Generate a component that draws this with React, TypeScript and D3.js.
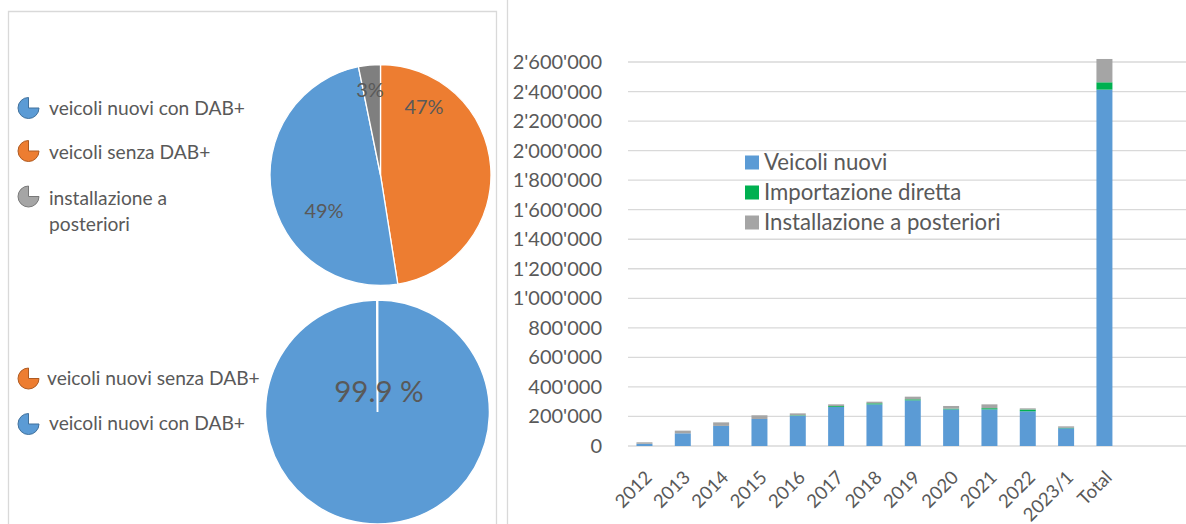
import React from "react";
import * as d3 from "d3";

const pie1Labels = ["veicoli senza DAB+", "veicoli nuovi con DAB+", "installazione a posteriori"];
const pie1Values = [47.5, 49.3, 3.2];
const pie1Colors = ["#ed7d31", "#5b9bd5", "#7f7f7f"];
const pie1Text = ["47%", "49%", "3%"];

const pie2Labels = ["veicoli nuovi con DAB+", "veicoli nuovi senza DAB+"];
const pie2Values = [99.9, 0.1];
const pie2Colors = ["#5b9bd5", "#ed7d31"];

const categories = ["2012", "2013", "2014", "2015", "2016", "2017", "2018", "2019", "2020", "2021", "2022", "2023/1", "Total"];
const veicoliNuovi = [15000, 86000, 136000, 183000, 205000, 264000, 282000, 309000, 248000, 248000, 235000, 120000, 2413000];
const importazione = [0, 0, 0, 0, 3000, 6000, 7000, 7000, 5000, 8000, 12000, 3000, 49500];
const installazione = [10000, 18000, 24000, 25000, 13000, 12000, 11000, 18000, 18000, 26000, 8000, 10000, 158000];
const seriesNames = ["Veicoli nuovi", "Importazione diretta", "Installazione a posteriori"];
const seriesColors = ["#5b9bd5", "#00b050", "#a5a5a5"];
const yTicks = [0, 200000, 400000, 600000, 800000, 1000000, 1200000, 1400000, 1600000, 1800000, 2000000, 2200000, 2400000, 2600000];

const FONT = "Lato, 'Open Sans', sans-serif";
const TXT = "#595959";

function LegendIcon({ x, y, fill, stroke }: { x: number; y: number; fill: string; stroke: string }) {
  const arc = d3.arc<any>().innerRadius(0).outerRadius(10.5).startAngle(Math.PI / 2).endAngle(2 * Math.PI);
  return <path d={arc({}) as string} transform={`translate(${x},${y})`} fill={fill} stroke={stroke} strokeWidth={1} />;
}

export default function App() {
  const pieGen = d3.pie<number>().sort(null).value((d) => d);
  const arcs1 = pieGen(pie1Values);
  const arc1 = d3.arc<any>().innerRadius(0).outerRadius(110.5);
  const c1 = { x: 380.5, y: 175 };
  const labelPos1 = [
    { x: 424, y: 107 },
    { x: 324, y: 211 },
    { x: 370, y: 90 },
  ];

  const arcs2 = pieGen(pie2Values);
  const arc2 = d3.arc<any>().innerRadius(0).outerRadius(112);
  const c2 = { x: 377.5, y: 412 };

  const x = d3.scaleBand<string>().domain(categories).range([625.3, 1123.6]).paddingInner(0.583).paddingOuter(0.2915);
  const y = d3.scaleLinear().domain([0, 2600000]).range([446, 62]);
  const table = categories.map((c, i) => ({ cat: c, a: veicoliNuovi[i], b: importazione[i], c: installazione[i] }));
  const stack = d3.stack<any>().keys(["a", "b", "c"])(table);
  const fmt = (v: number) => d3.format(",")(v).replace(/,/g, "'");

  return (
    <svg width={1186} height={524} style={{ position: "absolute", left: 0, top: 0, background: "#fff" }} fontFamily={FONT}>
      <rect x={0} y={0} width={1186} height={524} fill="#fff" />
      {/* left panel border */}
      <path d="M8.5,530 V11.5 H496.5 V530" fill="none" stroke="#d9d9d9" strokeWidth={1.3} />
      {/* right panel border */}
      <line x1={507.5} y1={0} x2={507.5} y2={524} stroke="#d9d9d9" strokeWidth={1.3} />

      {/* top pie */}
      <g transform={`translate(${c1.x},${c1.y})`}>
        {arcs1.map((a, i) => (
          <path key={i} d={arc1(a) as string} fill={pie1Colors[i]} stroke="#fff" strokeWidth={1.3} />
        ))}
      </g>
      {pie1Text.map((t, i) => (
        <text key={t} x={labelPos1[i].x} y={labelPos1[i].y} textAnchor="middle" dy="0.35em" fontSize={20} fill={TXT}>
          {t}
        </text>
      ))}
      {/* top legend */}
      <LegendIcon x={28.5} y={108} fill="#5b9bd5" stroke="#41719c" />
      <text x={49} y={108} dy="0.35em" fontSize={19.2} fill={TXT}>{pie1Labels[1]}</text>
      <LegendIcon x={28.5} y={151} fill="#ed7d31" stroke="#ae5a21" />
      <text x={49} y={152} dy="0.35em" fontSize={19.2} fill={TXT}>{pie1Labels[0]}</text>
      <LegendIcon x={28.5} y={196.5} fill="#a5a5a5" stroke="#787878" />
      <text x={49} y={198} dy="0.35em" fontSize={19.2} fill={TXT}>installazione a</text>
      <text x={49} y={224} dy="0.35em" fontSize={19.2} fill={TXT}>posteriori</text>

      {/* bottom pie */}
      <g transform={`translate(${c2.x},${c2.y})`}>
        {arcs2.map((a, i) => (
          <path key={i} d={arc2(a) as string} fill={pie2Colors[i]} stroke="#fff" strokeWidth={1.5} />
        ))}
      </g>
      <text x={379} y={392} textAnchor="middle" dy="0.35em" fontSize={29.5} fill={TXT}>99.9 %</text>
      <LegendIcon x={28.5} y={378.5} fill="#ed7d31" stroke="#ae5a21" />
      <text x={47} y={378} dy="0.35em" fontSize={19.2} fill={TXT}>{pie2Labels[1]}</text>
      <LegendIcon x={28.5} y={424} fill="#5b9bd5" stroke="#41719c" />
      <text x={49} y={423} dy="0.35em" fontSize={19.2} fill={TXT}>{pie2Labels[0]}</text>

      {/* bar chart gridlines */}
      {yTicks.map((t) => (
        <g key={t}>
          <line x1={628} x2={1186} y1={y(t)} y2={y(t)} stroke="#d9d9d9" strokeWidth={1.3} />
          <text x={602} y={y(t)} dy="0.35em" textAnchor="end" fontSize={20} fill={TXT}>{fmt(t)}</text>
        </g>
      ))}
      {/* bars */}
      {stack.map((s, si) => (
        <g key={si} fill={seriesColors[si]}>
          {s.map((d: any, i: number) => (
            <rect key={i} x={x(categories[i])} width={x.bandwidth()} y={y(d[1])} height={Math.max(0, y(d[0]) - y(d[1]))} />
          ))}
        </g>
      ))}
      {/* x labels */}
      {categories.map((c) => {
        const cx = (x(c) as number) + x.bandwidth() / 2 + 4;
        return (
          <text key={c} transform={`translate(${cx},474) rotate(-45)`} textAnchor="end" dy="0.35em" fontSize={18.5} fill={TXT}>
            {c}
          </text>
        );
      })}
      {/* bar legend */}
      {seriesNames.map((n, i) => (
        <g key={n} transform={`translate(745,${162.5 + i * 30})`}>
          <rect x={0} y={-7} width={14} height={14} fill={seriesColors[i]} />
          <text x={19} y={0} dy="0.35em" fontSize={22.2} fill={TXT}>{n}</text>
        </g>
      ))}
    </svg>
  );
}
